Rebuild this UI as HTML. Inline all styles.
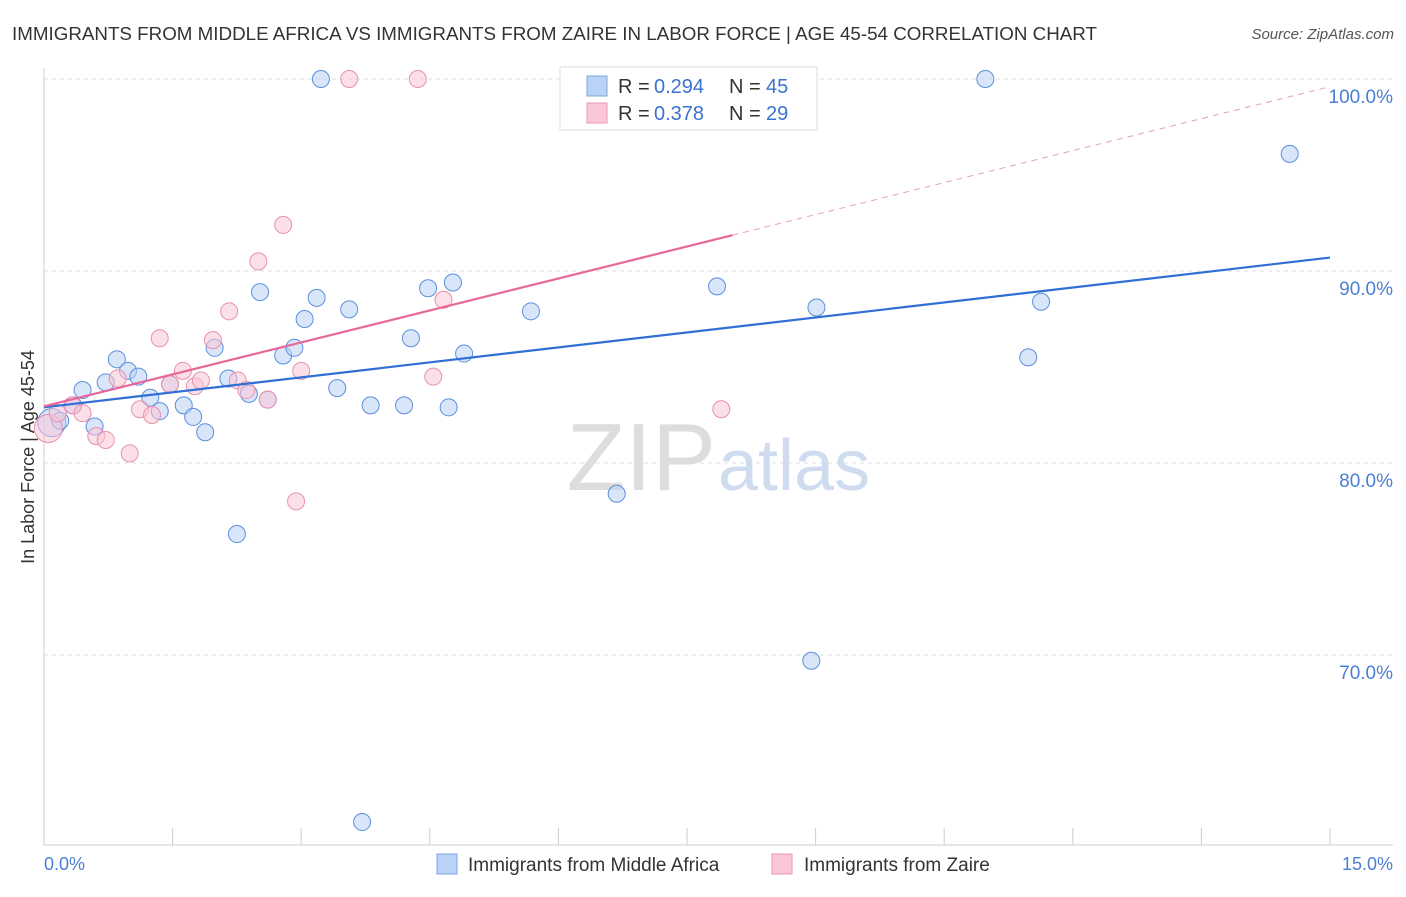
<!DOCTYPE html>
<html><head><meta charset="utf-8"><style>
body{margin:0;background:#fff;font-family:"Liberation Sans",sans-serif;}
svg text{font-family:"Liberation Sans",sans-serif;}
</style></head><body>
<svg width="1406" height="892" viewBox="0 0 1406 892">
<text x="12" y="40" font-size="18" fill="#333" textLength="1085" lengthAdjust="spacingAndGlyphs">IMMIGRANTS FROM MIDDLE AFRICA VS IMMIGRANTS FROM ZAIRE IN LABOR FORCE | AGE 45-54 CORRELATION CHART</text>
<text x="1394" y="39" font-size="15" fill="#555" font-style="italic" text-anchor="end">Source: ZipAtlas.com</text>
<g id="grid"></g>
<text x="716" y="490" font-size="96" fill="#ddd" font-family="Liberation Serif" text-anchor="end">ZIP</text>
<text x="718" y="490" font-size="72" fill="#cfdcf0">atlas</text>
<g id="pts"></g>
<g id="lines"></g>
<text transform="translate(34,457) rotate(-90)" font-size="18" fill="#333" text-anchor="middle">In Labor Force | Age 45-54</text>
<text x="44" y="870" font-size="18" fill="#4a7fd4">0.0%</text>
<text x="1393" y="870" font-size="18" fill="#4a7fd4" text-anchor="end">15.0%</text>
<g>
<rect x="560" y="67" width="257" height="63" fill="#fff" stroke="#ddd"/>
<rect x="587" y="76" width="20" height="20" fill="#b9d2f5" stroke="#7fa6e0"/>
<rect x="587" y="103" width="20" height="20" fill="#f9c7d6" stroke="#eb9ab4"/>
<text x="618" y="93" font-size="20" fill="#333">R =</text>
<text x="654" y="93" font-size="20" fill="#3a72d0">0.294</text>
<text x="729" y="93" font-size="20" fill="#333">N =</text>
<text x="766" y="93" font-size="20" fill="#3a72d0">45</text>
<text x="618" y="120" font-size="20" fill="#333">R =</text>
<text x="654" y="120" font-size="20" fill="#3a72d0">0.378</text>
<text x="729" y="120" font-size="20" fill="#333">N =</text>
<text x="766" y="120" font-size="20" fill="#3a72d0">29</text>
</g>
<g>
<rect x="437" y="854" width="20" height="20" fill="#b9d2f5" stroke="#7fa6e0"/>
<text x="468" y="871" font-size="19" fill="#333">Immigrants from Middle Africa</text>
<rect x="772" y="854" width="20" height="20" fill="#f9c7d6" stroke="#eb9ab4"/>
<text x="804" y="871" font-size="19" fill="#333">Immigrants from Zaire</text>
</g>
</svg>
<script>
const yTicks=[100,90,80,70];
const xTicks=[0,1.5,3,4.5,6,7.5,9,10.5,12,13.5,15];
const blueX=[0.09,0.19,0.34,0.45,0.59,0.72,0.85,0.98,1.1,1.24,1.35,1.47,1.63,1.74,1.88,1.99,2.15,2.25,2.39,2.52,2.61,2.79,2.92,3.04,3.18,3.23,3.42,3.56,3.71,3.81,4.2,4.28,4.48,4.72,4.77,4.9,5.68,6.68,7.85,8.95,9.01,10.98,11.48,11.63,14.53];
const blueY=[82.1,82.2,83.0,83.8,81.9,84.2,85.4,84.8,84.5,83.4,82.7,84.1,83.0,82.4,81.6,86.0,84.4,76.3,83.6,88.9,83.3,85.6,86.0,87.5,88.6,100,83.9,88.0,61.3,83.0,83.0,86.5,89.1,82.9,89.4,85.7,87.9,78.4,89.2,69.7,88.1,100,85.5,88.4,96.1];
const pinkX=[0.05,0.16,0.33,0.45,0.61,0.72,0.86,1.0,1.12,1.26,1.35,1.47,1.62,1.76,1.83,1.97,2.16,2.26,2.36,2.5,2.61,2.79,2.94,3.0,3.56,4.36,4.54,4.66,7.9];
const pinkY=[81.8,82.6,83.0,82.6,81.4,81.2,84.4,80.5,82.8,82.5,86.5,84.1,84.8,84.0,84.3,86.4,87.9,84.3,83.8,90.5,83.3,92.4,78.0,84.8,100,100,84.5,88.5,82.8];
const blueFit=[82.9,90.7];
const pinkFit=[82.95,99.6];
const X=v=>44+v*85.733, Y=v=>79+(100-v)*19.2;
const NS='http://www.w3.org/2000/svg';
function mk(t,a,p){const e=document.createElementNS(NS,t);for(const k in a)e.setAttribute(k,a[k]);p.appendChild(e);return e;}
const grid=document.getElementById('grid');
const ax=mk('line',{x1:44,y1:68,x2:44,y2:845,stroke:'#ccc'},grid);


const bx=mk('line',{x1:44,y1:845,x2:1393,y2:845,stroke:'#ccc'},grid);


yTicks.forEach(t=>{
 const l=mk('line',{x1:44,y1:Y(t),x2:1393,y2:Y(t),stroke:'#ddd','stroke-dasharray':'4,4'},grid);
 
 
 const tx=mk('text',{x:1393,y:Y(t)+24,'font-size':19,fill:'#4a7fd4','text-anchor':'end'},grid);
 tx.textContent=t.toFixed(1)+'%';
 
 
});
xTicks.forEach(t=>{
 const l=mk('line',{x1:X(t),y1:828,x2:X(t),y2:845,stroke:'#ccc'},grid);
 
 
});
const pts=document.getElementById('pts');
function dots(xs,ys,fill,stroke,name){xs.forEach((x,i)=>{
 const big=(i===0);
 const c=mk('circle',{cx:X(x),cy:Y(ys[i]),r:big?14:8.5,fill:fill,'fill-opacity':0.55,stroke:stroke,'stroke-width':1},pts);
 
 
});}
dots(blueX,blueY,'#b9d2f5','#5b8fdc','point-middle-africa');
dots(pinkX,pinkY,'#f9c7d6','#e890ad','point-zaire');
const lines=document.getElementById('lines');
const bl=mk('line',{x1:X(0),y1:Y(blueFit[0]),x2:X(15),y2:Y(blueFit[1]),stroke:'#2f6fd6','stroke-width':2.2},lines);


const pv=x=>pinkFit[0]+(pinkFit[1]-pinkFit[0])*x/15;
const pl=mk('line',{x1:X(0),y1:Y(pv(0)),x2:X(8.03),y2:Y(pv(8.03)),stroke:'#e8679a','stroke-width':2.2},lines);


const pd=mk('line',{x1:X(8.03),y1:Y(pv(8.03)),x2:X(15),y2:Y(pv(15)),stroke:'#e8a0b8','stroke-width':1,'stroke-dasharray':'6,5'},lines);


</script>
</body></html>
